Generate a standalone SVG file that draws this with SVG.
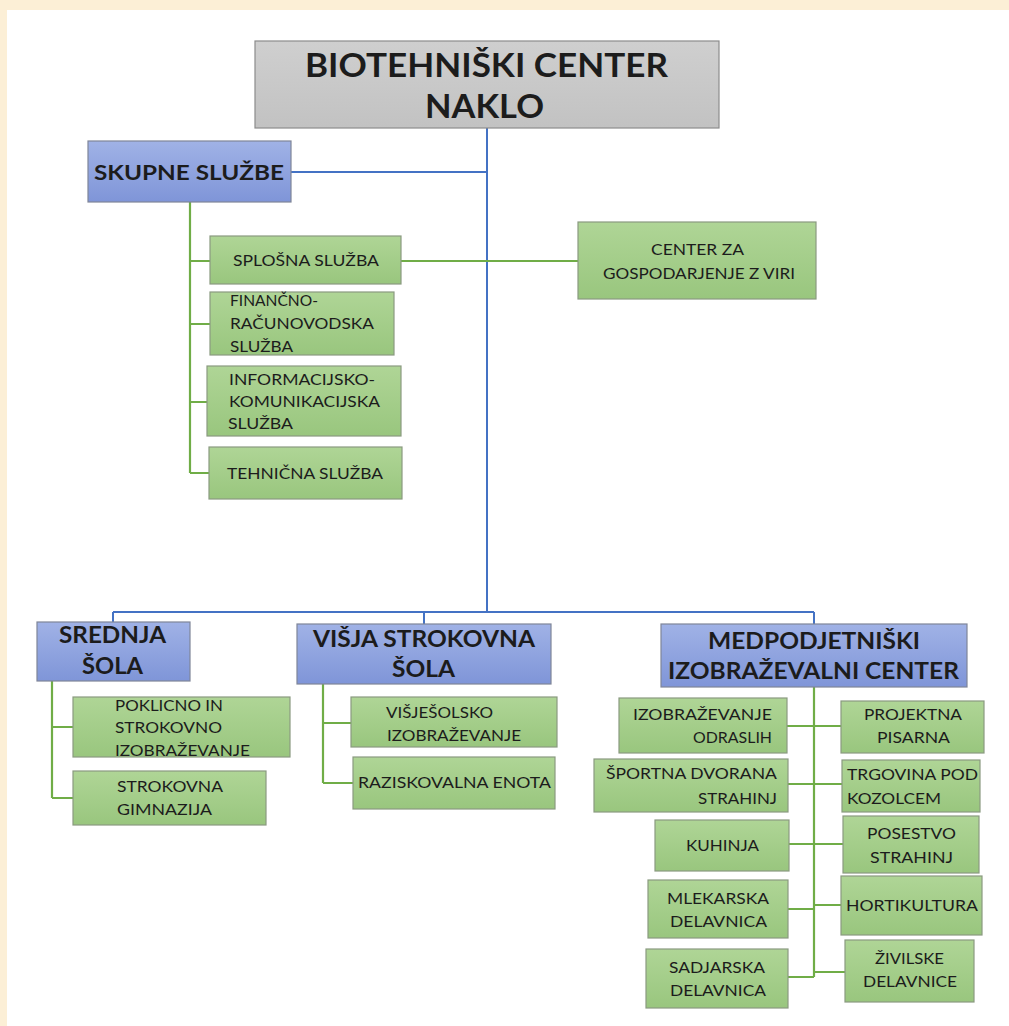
<svg xmlns="http://www.w3.org/2000/svg" width="1009" height="1026" viewBox="0 0 1009 1026">
<defs>
<linearGradient id="gG" x1="0" y1="0" x2="0" y2="1"><stop offset="0" stop-color="#afd596"/><stop offset="1" stop-color="#99c67e"/></linearGradient>
<linearGradient id="gB" x1="0" y1="0" x2="0" y2="1"><stop offset="0" stop-color="#a0b2e6"/><stop offset="1" stop-color="#7f95d8"/></linearGradient>
<linearGradient id="gT" x1="0" y1="0" x2="0" y2="1"><stop offset="0" stop-color="#cfcfcf"/><stop offset="1" stop-color="#c2c2c2"/></linearGradient>
<style>
text{font-family:Lato,"Liberation Sans",sans-serif;fill:#1c1c1c}
.g{fill:url(#gG);stroke:#8a9a80;stroke-width:1.2}
.b{fill:url(#gB);stroke:#7f8598;stroke-width:1.2}
.t{fill:url(#gT);stroke:#8c8c8c;stroke-width:1.2}
.s{font-size:15px}
.m{font-size:22px;font-weight:bold}
.L{font-size:33px;font-weight:bold}
.cb{fill:none;stroke:#4472c4;stroke-width:2}
.cg{fill:none;stroke:#70ad47;stroke-width:2.2}
</style>
</defs>
<rect x="0" y="0" width="1009" height="1026" fill="#ffffff"/>
<rect x="0" y="0" width="1009" height="10" fill="#fcefd6"/>
<rect x="0" y="0" width="7" height="1026" fill="#fcefd6"/>

<g id="connectors">
<path class="cb" d="M487 128 V612 M291 172 H487 M113 612 H814 M113 612 V622 M424 612 V624 M814 612 V624"/>
<path class="cg" d="M190 202 V473 M190 261 H210 M190 324 H210 M190 402 H207 M190 473 H209 M401 261 H578"/>
<path class="cg" d="M52 681 V798 M52 727 H73 M52 798 H73"/>
<path class="cg" d="M323 683 V783 M323 723 H351 M323 783 H353"/>
<path class="cg" d="M814 687 V977 M787 726 H841 M788 784 H842 M789 844 H843 M788 909 H814 M814 905 H841 M788 977 H814 M814 972 H845"/>
</g>

<g id="n-root"><rect class="t" x="255" y="41" width="464" height="87"/>
<text class="L" x="305" y="77" textLength="363" lengthAdjust="spacingAndGlyphs">BIOTEHNIŠKI CENTER</text>
<text class="L" x="425" y="118" textLength="119" lengthAdjust="spacingAndGlyphs">NAKLO</text></g>

<g id="n-skupne"><rect class="b" x="88" y="141" width="203" height="61"/>
<text x="94" y="180" font-size="21" font-weight="bold" textLength="190" lengthAdjust="spacingAndGlyphs">SKUPNE SLUŽBE</text></g>

<g id="n-splosna"><rect class="g" x="210" y="236" width="191" height="48"/>
<text class="s" x="233" y="266" textLength="146" lengthAdjust="spacingAndGlyphs">SPLOŠNA SLUŽBA</text></g>

<g id="n-financno"><rect class="g" x="210" y="292" width="184" height="63"/>
<text class="s" x="230" y="306" textLength="88" lengthAdjust="spacingAndGlyphs">FINANČNO-</text>
<text class="s" x="230" y="329" textLength="144" lengthAdjust="spacingAndGlyphs">RAČUNOVODSKA</text>
<text class="s" x="230" y="352" textLength="63" lengthAdjust="spacingAndGlyphs">SLUŽBA</text></g>

<g id="n-info"><rect class="g" x="207" y="366" width="194" height="70"/>
<text class="s" x="229" y="385" textLength="146" lengthAdjust="spacingAndGlyphs">INFORMACIJSKO-</text>
<text class="s" x="229" y="407" textLength="151" lengthAdjust="spacingAndGlyphs">KOMUNIKACIJSKA</text>
<text class="s" x="228" y="429" textLength="65" lengthAdjust="spacingAndGlyphs">SLUŽBA</text></g>

<g id="n-tehnicna"><rect class="g" x="209" y="447" width="193" height="52"/>
<text class="s" x="227" y="479" textLength="156" lengthAdjust="spacingAndGlyphs">TEHNIČNA SLUŽBA</text></g>

<g id="n-center-viri"><rect class="g" x="578" y="222" width="238" height="77"/>
<text class="s" x="651" y="255" textLength="93" lengthAdjust="spacingAndGlyphs">CENTER ZA</text>
<text class="s" x="603" y="279" textLength="192" lengthAdjust="spacingAndGlyphs">GOSPODARJENJE Z VIRI</text></g>

<g id="n-srednja"><rect class="b" x="37" y="622" width="153" height="59"/>
<text class="m" x="59" y="643" textLength="107" lengthAdjust="spacingAndGlyphs">SREDNJA</text>
<text class="m" x="82" y="674" textLength="61" lengthAdjust="spacingAndGlyphs">ŠOLA</text></g>

<g id="n-poklicno"><rect class="g" x="73" y="697" width="217" height="60"/>
<text class="s" x="115" y="711" textLength="108" lengthAdjust="spacingAndGlyphs">POKLICNO IN</text>
<text class="s" x="115" y="733" textLength="107" lengthAdjust="spacingAndGlyphs">STROKOVNO</text>
<text class="s" x="115" y="756" textLength="135" lengthAdjust="spacingAndGlyphs">IZOBRAŽEVANJE</text></g>

<g id="n-gimnazija"><rect class="g" x="73" y="771" width="193" height="54"/>
<text class="s" x="117" y="792" textLength="106" lengthAdjust="spacingAndGlyphs">STROKOVNA</text>
<text class="s" x="117" y="815" textLength="95" lengthAdjust="spacingAndGlyphs">GIMNAZIJA</text></g>

<g id="n-visja"><rect class="b" x="297" y="624" width="254" height="60"/>
<text class="m" x="313" y="647" textLength="222" lengthAdjust="spacingAndGlyphs">VIŠJA STROKOVNA</text>
<text class="m" x="392" y="677" textLength="63" lengthAdjust="spacingAndGlyphs">ŠOLA</text></g>

<g id="n-visjesolsko"><rect class="g" x="351" y="697" width="206" height="50"/>
<text class="s" x="386" y="718" textLength="107" lengthAdjust="spacingAndGlyphs">VIŠJEŠOLSKO</text>
<text class="s" x="387" y="741" textLength="134" lengthAdjust="spacingAndGlyphs">IZOBRAŽEVANJE</text></g>

<g id="n-raziskovalna"><rect class="g" x="353" y="757" width="202" height="52"/>
<text class="s" x="358" y="788" textLength="193" lengthAdjust="spacingAndGlyphs">RAZISKOVALNA ENOTA</text></g>

<g id="n-medpodjetniski"><rect class="b" x="661" y="624" width="306" height="63"/>
<text class="m" x="708" y="649" textLength="212" lengthAdjust="spacingAndGlyphs">MEDPODJETNIŠKI</text>
<text class="m" x="668" y="679" textLength="291" lengthAdjust="spacingAndGlyphs">IZOBRAŽEVALNI CENTER</text></g>

<g id="n-odraslih"><rect class="g" x="619" y="698" width="168" height="55"/>
<text class="s" x="633" y="720" textLength="139" lengthAdjust="spacingAndGlyphs">IZOBRAŽEVANJE</text>
<text class="s" x="693" y="743" textLength="79" lengthAdjust="spacingAndGlyphs">ODRASLIH</text></g>

<g id="n-sportna"><rect class="g" x="594" y="759" width="194" height="53"/>
<text class="s" x="606" y="779" textLength="171" lengthAdjust="spacingAndGlyphs">ŠPORTNA DVORANA</text>
<text class="s" x="698" y="804" textLength="79" lengthAdjust="spacingAndGlyphs">STRAHINJ</text></g>

<g id="n-kuhinja"><rect class="g" x="655" y="820" width="134" height="51"/>
<text class="s" x="686" y="851" textLength="73" lengthAdjust="spacingAndGlyphs">KUHINJA</text></g>

<g id="n-mlekarska"><rect class="g" x="648" y="880" width="140" height="58"/>
<text class="s" x="667" y="904" textLength="102" lengthAdjust="spacingAndGlyphs">MLEKARSKA</text>
<text class="s" x="670" y="927" textLength="97" lengthAdjust="spacingAndGlyphs">DELAVNICA</text></g>

<g id="n-sadjarska"><rect class="g" x="646" y="949" width="142" height="59"/>
<text class="s" x="669" y="973" textLength="96" lengthAdjust="spacingAndGlyphs">SADJARSKA</text>
<text class="s" x="670" y="996" textLength="96" lengthAdjust="spacingAndGlyphs">DELAVNICA</text></g>

<g id="n-projektna"><rect class="g" x="841" y="701" width="143" height="52"/>
<text class="s" x="864" y="720" textLength="98" lengthAdjust="spacingAndGlyphs">PROJEKTNA</text>
<text class="s" x="877" y="743" textLength="73" lengthAdjust="spacingAndGlyphs">PISARNA</text></g>

<g id="n-trgovina"><rect class="g" x="842" y="760" width="138" height="52"/>
<text class="s" x="847" y="780" textLength="131" lengthAdjust="spacingAndGlyphs">TRGOVINA POD</text>
<text class="s" x="847" y="804" textLength="94" lengthAdjust="spacingAndGlyphs">KOZOLCEM</text></g>

<g id="n-posestvo"><rect class="g" x="843" y="816" width="136" height="57"/>
<text class="s" x="867" y="839" textLength="89" lengthAdjust="spacingAndGlyphs">POSESTVO</text>
<text class="s" x="870" y="863" textLength="83" lengthAdjust="spacingAndGlyphs">STRAHINJ</text></g>

<g id="n-hortikultura"><rect class="g" x="841" y="876" width="141" height="59"/>
<text class="s" x="846" y="911" textLength="132" lengthAdjust="spacingAndGlyphs">HORTIKULTURA</text></g>

<g id="n-zivilske"><rect class="g" x="845" y="940" width="129" height="62"/>
<text class="s" x="875" y="964" textLength="69" lengthAdjust="spacingAndGlyphs">ŽIVILSKE</text>
<text class="s" x="863" y="987" textLength="94" lengthAdjust="spacingAndGlyphs">DELAVNICE</text></g>
</svg>
